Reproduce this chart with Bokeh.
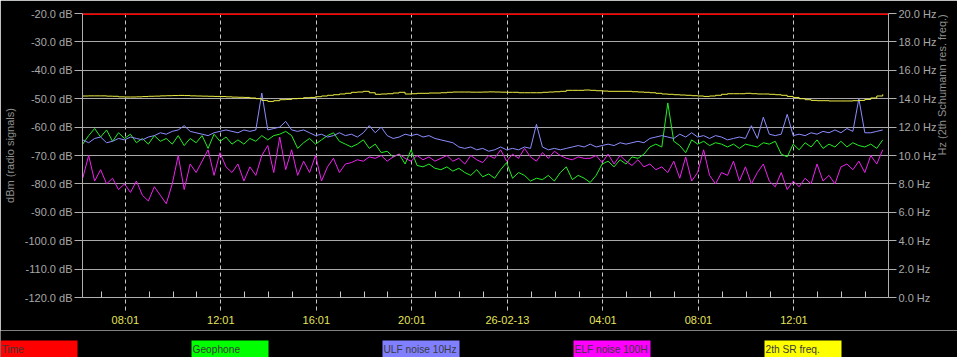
import math
from bokeh.plotting import figure
from bokeh.models import (Range1d, LinearAxis, FixedTicker, SingleIntervalTicker,
                          PrintfTickFormatter)
from bokeh.core.properties import value
from bokeh.embed import file_html
from bokeh.resources import INLINE

# ---------------- data ----------------
# time axis: minutes since 25-02-13 00:00, one sample every 15 minutes
start_minute = 374
sample_step = 15

geophone = [
    -66, -63, -60.5, -63.5, -61, -65, -62, -64, -62.5, -65.5, -64, -66, -63, -65, -64, -66, -63, -66.5, -64, -65.5, -63, -67.5, -62.5, -65, -63.5, -66, -64.5,
    -66, -64, -65, -63, -64.5, -63, -62.5, -61.5, -63, -67.5, -65.5, -64, -66, -64.5, -63, -62, -65, -66, -67, -66, -64.5, -67.5, -66, -69, -68.5, -70.5, -69.5,
    -73, -68, -73.5, -74, -73, -74.5, -75, -74, -75.5, -74.5, -76, -77, -75, -77.5, -76.5, -78, -75, -72.5, -78, -76, -77, -79, -78, -78.5, -77, -79, -76,
    -74, -78.5, -77, -78, -79.5, -77, -73, -72, -74, -71.5, -73, -70.5, -71, -69.5, -67, -66, -67, -51.5, -65, -66.5, -69, -64.5, -66, -65, -66.5, -65.5, -66,
    -67, -66, -67.5, -66, -66.5, -67, -65.5, -66, -65, -69.5, -70.5, -66, -68, -65.5, -67, -64.5, -67.5, -66, -67, -65, -67, -65.5, -66.5, -67, -66, -67.5, -64.5,
]
ulf_10hz = [
    -64.5, -65.5, -64, -63.5, -65.5, -65, -64, -64.5, -63.5, -64, -64.5, -63.5, -63, -62, -62.5, -61.5, -61, -59.5, -61.5, -62, -62.5, -63, -62, -61.5, -61, -61.5, -62,
    -61, -61.5, -61, -48, -61, -60.5, -60, -58, -61, -61.5, -61, -62, -63, -62.5, -63.5, -63, -62, -63, -62.5, -63.5, -62, -59.5, -62, -60, -63, -64, -63.5,
    -62.5, -63, -62.5, -63.5, -63, -64, -64.5, -65, -65.5, -67, -67.5, -67, -68, -67.5, -68.5, -68, -67, -68, -67.5, -68, -67, -67.5, -59, -67, -68, -67.5, -68,
    -67.5, -67, -66.5, -67, -66, -67, -66.5, -66, -66.5, -65.5, -66, -65.5, -65, -65.5, -64, -63.5, -63, -63.5, -64, -62.5, -63.5, -62, -63.5, -63, -64, -63, -63.5,
    -64.5, -64, -63.5, -64, -59.5, -64, -56.5, -62.5, -63, -62.5, -55.5, -63, -62.5, -63, -62, -62.5, -61.5, -62, -61, -62, -60.5, -61.5, -50, -62, -62, -61.5, -61,
]
elf_100h = [
    -78, -70, -79, -75, -80, -78, -82, -80, -83, -79, -84, -86, -81, -84, -87, -80, -70, -82, -73, -76, -72, -68, -77, -69, -74, -76, -73,
    -79, -74, -77, -70, -66.5, -76, -63.5, -75, -68, -77, -72, -76, -70, -79, -74, -71, -76, -73, -72.5, -71.5, -72, -70.5, -71, -70, -72, -70.5, -69.5,
    -71, -72, -70, -71.5, -70.5, -72, -71, -70, -72, -71, -73, -70, -71.5, -72.5, -70, -71, -68, -72, -69.5, -71, -67.5, -70.5, -72, -69, -71, -68.5, -70,
    -71, -71.5, -70.5, -71, -71, -70, -72.5, -69.5, -73, -70, -72, -73.5, -71.5, -74, -73, -75, -74, -76, -72, -78, -70.5, -79, -76, -68, -77, -80, -76,
    -77, -72, -79, -74, -80, -76, -73, -79, -81, -76, -82, -79, -81, -78, -80, -73, -79, -77, -80, -74, -73, -75, -72, -76, -70, -73, -68,
]
sr2_freq_hz = [
    14.19, 14.2, 14.2, 14.2, 14.18, 14.17, 14.13, 14.12, 14.12, 14.13, 14.15, 14.17, 14.18, 14.2, 14.21, 14.22, 14.23, 14.22, 14.2, 14.19, 14.18, 14.17, 14.16, 14.15, 14.13, 14.11, 14.1,
    14.09, 14.05, 14.0, 13.88, 13.81, 13.86, 13.93, 13.95, 14.0, 14.02, 14.07, 14.09, 14.14, 14.19, 14.24, 14.28, 14.33, 14.38, 14.45, 14.47, 14.52, 14.42, 14.31, 14.33, 14.35, 14.4, 14.45,
    14.33, 14.35, 14.38, 14.38, 14.4, 14.4, 14.42, 14.45, 14.47, 14.47, 14.47, 14.46, 14.46, 14.47, 14.48, 14.47, 14.46, 14.45, 14.45, 14.42, 14.42, 14.42, 14.42, 14.45, 14.47, 14.49, 14.52,
    14.59, 14.59, 14.59, 14.61, 14.59, 14.56, 14.54, 14.52, 14.52, 14.52, 14.52, 14.49, 14.47, 14.45, 14.42, 14.38, 14.33, 14.31, 14.28, 14.26, 14.24, 14.21, 14.19, 14.16, 14.19, 14.24, 14.31,
    14.35, 14.35, 14.35, 14.38, 14.35, 14.33, 14.33, 14.31, 14.28, 14.24, 14.16, 14.09, 14.0, 13.93, 13.88, 13.86, 13.86, 13.84, 13.84, 13.84, 13.84, 13.86, 13.88, 13.95, 14.05, 14.19, 14.31,
]
time_level_db = -20.0

times = [start_minute + sample_step * i for i in range(len(geophone))]

tick_minutes = [481, 721, 961, 1201, 1441, 1681, 1921, 2161]
tick_labels = ["08:01", "12:01", "16:01", "20:01", "26-02-13", "04:01", "08:01", "12:01"]
minor_minutes = [m for m in range(421, 2400, 60) if m not in tick_minutes]

series_names = ["Time", "Geophone", "ULF noise 10Hz", "ELF noise 100H", "2th SR freq."]
legend_colors = ["#ff0000", "#00ff00", "#8080ff", "#ff00ff", "#ffff00"]
line_colors = ["#ff0000", "#22ee22", "#8c8cff", "#ee22ee", "#eeee44"]

# ---------------- main chart ----------------
X0, X1 = 373.5, 2398.5
FONT = "Liberation Sans"

p = figure(width=957, height=330, x_range=Range1d(X0, X1), y_range=Range1d(-120, -20),
           output_backend="svg", toolbar_location=None,
           min_border_left=80, min_border_right=67, min_border_top=13, min_border_bottom=33,
           background_fill_color="black", border_fill_color="black", outline_line_color=None)
p.extra_y_ranges = {"hz": Range1d(0, 20)}

# x axis
xa = p.xaxis[0]
xa.ticker = FixedTicker(ticks=tick_minutes, minor_ticks=minor_minutes)
xa.major_label_overrides = {m: lab for m, lab in zip(tick_minutes, tick_labels)}
xa.major_label_text_color = "#e4e45a"
xa.major_label_text_font = FONT
xa.major_label_text_font_size = "11px"
xa.major_label_standoff = 3
xa.major_tick_in = 0
xa.major_tick_out = 13
xa.major_tick_line_color = "#c8c8c8"
xa.major_tick_line_dash = "4 3"
xa.minor_tick_in = 6
xa.minor_tick_out = 0
xa.minor_tick_line_color = "#c8c8c8"
xa.axis_line_color = "#b0b0b0"

# left axis
ya = p.yaxis[0]
ya.ticker = SingleIntervalTicker(interval=10, num_minor_ticks=0)
ya.formatter = PrintfTickFormatter(format="%.1f dB")
ya.major_label_text_color = "#a8a8a8"
ya.major_label_text_font = FONT
ya.major_label_text_font_size = "11px"
ya.major_label_standoff = 2
ya.major_tick_in = 0
ya.major_tick_out = 8
ya.major_tick_line_color = "#b0b0b0"
ya.minor_tick_line_color = None
ya.axis_line_color = "#b0b0b0"
ya.axis_label = "dBm (radio signals)"
ya.axis_label_text_color = "#909090"
ya.axis_label_text_font = FONT
ya.axis_label_text_font_size = "11px"
ya.axis_label_text_font_style = "normal"
ya.axis_label_standoff = 6

# right axis
ra = LinearAxis(y_range_name="hz", ticker=SingleIntervalTicker(interval=2, num_minor_ticks=0),
                formatter=PrintfTickFormatter(format="%.1f Hz"))
ra.major_label_text_color = "#a8a8a8"
ra.major_label_text_font = FONT
ra.major_label_text_font_size = "11px"
ra.major_label_standoff = 2
ra.major_tick_in = 0
ra.major_tick_out = 8
ra.major_tick_line_color = "#b0b0b0"
ra.minor_tick_line_color = None
ra.axis_line_color = "#b0b0b0"
ra.axis_label = "Hz (2th Schumann res. freq.)"
ra.axis_label_text_color = "#909090"
ra.axis_label_text_font = FONT
ra.axis_label_text_font_size = "11px"
ra.axis_label_text_font_style = "normal"
ra.axis_label_standoff = 3
if "axis_label_orientation" in ra.properties():
    ra.axis_label_orientation = math.pi / 2
p.add_layout(ra, "right")

# grids
p.xgrid.ticker = FixedTicker(ticks=tick_minutes)
p.xgrid.grid_line_color = "#c8c8c8"
p.xgrid.grid_line_dash = "4 3"
p.ygrid.grid_line_color = "#a8a8a8"

# series
p.line([X0, X1], [time_level_db, time_level_db], line_color=line_colors[0], line_width=3)
p.line(times, geophone, line_color=line_colors[1], line_width=1)
p.line(times, ulf_10hz, line_color=line_colors[2], line_width=1)
p.line(times, elf_100h, line_color=line_colors[3], line_width=1)
p.step(times, sr2_freq_hz, mode="after", line_color=line_colors[4], line_width=1, y_range_name="hz")

# ---------------- legend strip (separate root, stacked below) ----------------
leg = figure(width=957, height=27, x_range=Range1d(0, 957), y_range=Range1d(0, 27),
             output_backend="svg", toolbar_location=None, min_border=0,
             x_axis_location=None, y_axis_location=None,
             background_fill_color="black", border_fill_color="black", outline_line_color=None)
leg.grid.visible = False
lefts = [i * 191 for i in range(len(series_names))]
leg.quad(left=lefts, right=[l + 77 for l in lefts], bottom=0, top=17,
         fill_color=legend_colors, line_color=None)
leg.text(x=[l + 1 for l in lefts], y=[8.5] * len(lefts), text=series_names,
         text_baseline="middle", text_align="left", text_color="#3a3a3a",
         text_font=value(FONT), text_font_size="10.2px")

with open("out.html", "w") as f:
    f.write(file_html([p, leg], INLINE))
